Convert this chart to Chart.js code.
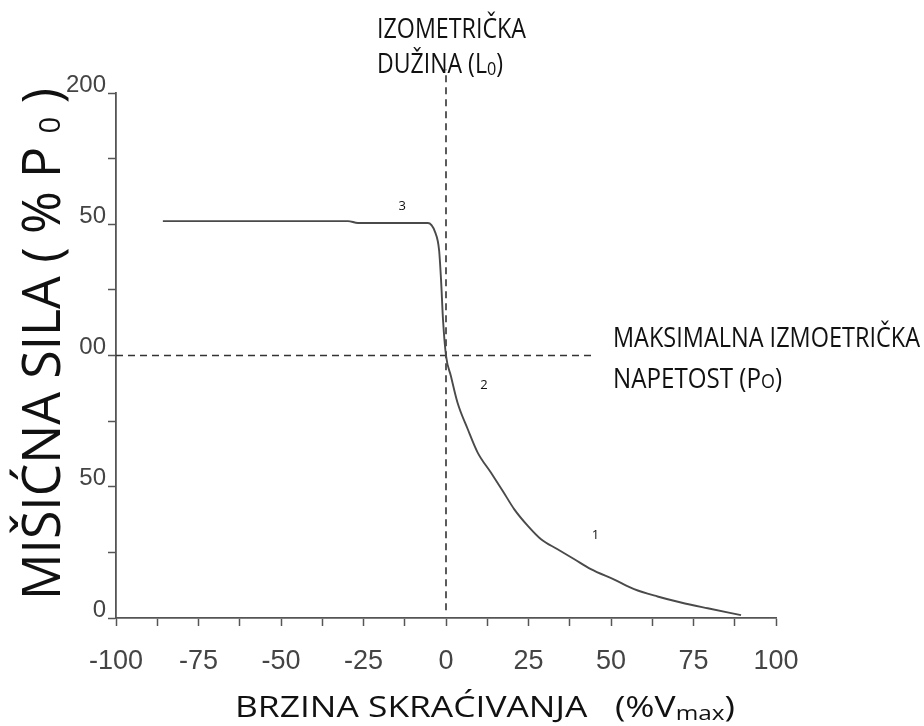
<!DOCTYPE html>
<html>
<head>
<meta charset="utf-8">
<script src="https://cdn.jsdelivr.net/npm/chart.js@4.4.1/dist/chart.umd.min.js"></script>
<style>
  html, body { margin: 0; background: #fff; }
  #wrap { width: 924px; height: 726px; }
</style>
</head>
<body>
<div id="wrap"><canvas id="myChart"></canvas></div>
<script>
// brzina skraćivanja (%Vmax) vs mišićna sila (%P0)
var speed = [-85.8, -29.7, -26.7, -5.5, -3.3, -2.1, -1.5, -0.9,
             0, 1.5, 3.5, 6.6, 9.6, 13.6, 17.2, 20.7, 24.8, 28.8, 33.8, 38.9, 43.9, 51, 57, 64.1, 71.2, 79.3, 89.4];
var force = [151.2, 151.2, 150.5, 150.5, 147, 140.2, 128.8, 113.5,
             100, 92.1, 82, 71.9, 63, 55.4, 48.4, 41.4, 35.1, 30, 26.2, 22.4, 18.6, 14.6, 11, 8.2, 5.9, 3.7, 1.1];

// y tick labels exactly as printed (the scan cuts the leading "1")
var yTickLabels = { 0: '0', 50: '50', 100: '00', 150: '50', 200: '200' };

// dashed reference lines
var isoX = [0, 0], isoY = [3, 209];          // izometrička dužina (L0)
var maxX = [-100, 44], maxY = [100, 100];    // maksimalna napetost (P0)

// region numbers on the curve
var regionText = ['3', '2', '1'];
var regionX = [-13.3, 11.5, 45.3];
var regionY = [157, 88.8, 31.6];

function pts(xs, ys) {
    return xs.map(function (x, i) { return { x: x, y: ys[i] }; });
}

// draws a row of text pieces (some smaller, subscripts) squeezed to a given width
function fitText(ctx, runs, x, y, width, family) {
    var natural = 0;
    runs.forEach(function (r) {
        ctx.font = r[1] + 'px ' + family;
        natural += ctx.measureText(r[0]).width;
    });
    var k = width ? width / natural : 1;
    ctx.save();
    ctx.translate(x, y);
    ctx.scale(k, 1);
    ctx.textAlign = 'left';
    ctx.textBaseline = 'alphabetic';
    var cx = 0;
    runs.forEach(function (r) {
        ctx.font = r[1] + 'px ' + family;
        ctx.fillText(r[0], cx, r[2] || 0);
        cx += ctx.measureText(r[0]).width;
    });
    ctx.restore();
}

var textPlugin = {
    id: 'texts',
    afterDraw: function (chart) {
        var ctx = chart.ctx;
        var fam = '"Open Sans", sans-serif';
        ctx.save();
        ctx.fillStyle = '#111';

        // y axis title, rotated
        ctx.save();
        ctx.translate(60, 600);
        ctx.rotate(-Math.PI / 2);
        fitText(ctx, [['MIŠIĆNA SILA ( % P ', 53], ['0', 30], [' )', 53]], 0, 0, 512, fam);
        ctx.restore();

        // x axis title
        fitText(ctx, [['BRZINA SKRAĆIVANJA   (%V', 29], ['max', 20, 3], [')', 29]], 235, 717, 500, fam);

        // notes
        fitText(ctx, [['IZOMETRIČKA', 27]], 377, 38, 149, fam);
        fitText(ctx, [['DUŽINA (L', 27], ['0', 19, 2], [')', 27]], 377, 73, 126, fam);
        fitText(ctx, [['MAKSIMALNA IZMOETRIČKA', 27]], 613, 347, 307, fam);
        fitText(ctx, [['NAPETOST (P', 27], ['O', 20], [')', 27]], 613, 388, 169, fam);

        // region numbers
        var xs = chart.scales.x, ys = chart.scales.y;
        ctx.font = '13px ' + fam;
        ctx.textAlign = 'center';
        ctx.textBaseline = 'middle';
        regionText.forEach(function (t, i) {
            ctx.fillText(t, xs.getPixelForValue(regionX[i]), ys.getPixelForValue(regionY[i]));
        });
        ctx.restore();
    }
};

var ctx = document.getElementById('myChart').getContext('2d');
var chart = new Chart(ctx, {
    type: 'scatter',
    data: {
        datasets: [{
            label: 'sila',
            data: pts(speed, force),
            showLine: true,
            borderColor: '#4a4a4a',
            borderWidth: 1.9,
            pointRadius: 0,
            cubicInterpolationMode: 'monotone'
        }, {
            label: 'L0',
            data: pts(isoX, isoY),
            showLine: true,
            borderColor: '#333',
            borderWidth: 1.6,
            borderDash: [7, 5],
            pointRadius: 0,
            clip: false
        }, {
            label: 'P0',
            data: pts(maxX, maxY),
            showLine: true,
            borderColor: '#333',
            borderWidth: 1.6,
            borderDash: [7, 5],
            pointRadius: 0,
            clip: false
        }]
    },
    options: {
        responsive: true,
        maintainAspectRatio: false,
        animation: false,
        layout: {
            padding: { left: 36, right: 148, top: 93, bottom: 38 }
        },
        plugins: {
            legend: { display: false },
            tooltip: { enabled: false }
        },
        scales: {
            x: {
                type: 'linear',
                min: -100,
                max: 100,
                afterFit: function (s) { s.height = 70; },
                ticks: {
                    stepSize: 12.5,
                    autoSkip: false,
                    maxRotation: 0,
                    padding: 19,
                    color: '#444',
                    font: { family: '"Liberation Sans", sans-serif', size: 27 },
                    callback: function (v) { return v % 25 === 0 ? v : ''; }
                },
                grid: {
                    drawOnChartArea: false,
                    drawTicks: true,
                    tickLength: 8,
                    tickColor: '#555',
                    tickWidth: 1.5
                },
                border: { color: '#555', width: 1.8 }
            },
            y: {
                min: 0,
                max: 200,
                afterFit: function (s) { s.width = 80; },
                ticks: {
                    stepSize: 25,
                    autoSkip: false,
                    padding: 2,
                    labelOffset: -8,
                    color: '#444',
                    font: { family: '"Liberation Sans", sans-serif', size: 24 },
                    callback: function (v) { return v % 50 === 0 ? yTickLabels[v] : ''; }
                },
                grid: {
                    drawOnChartArea: false,
                    drawTicks: true,
                    tickLength: 8,
                    tickColor: '#555',
                    tickWidth: 1.5
                },
                border: { color: '#555', width: 1.8 }
            }
        }
    },
    plugins: [textPlugin]
});
</script>
</body>
</html>
